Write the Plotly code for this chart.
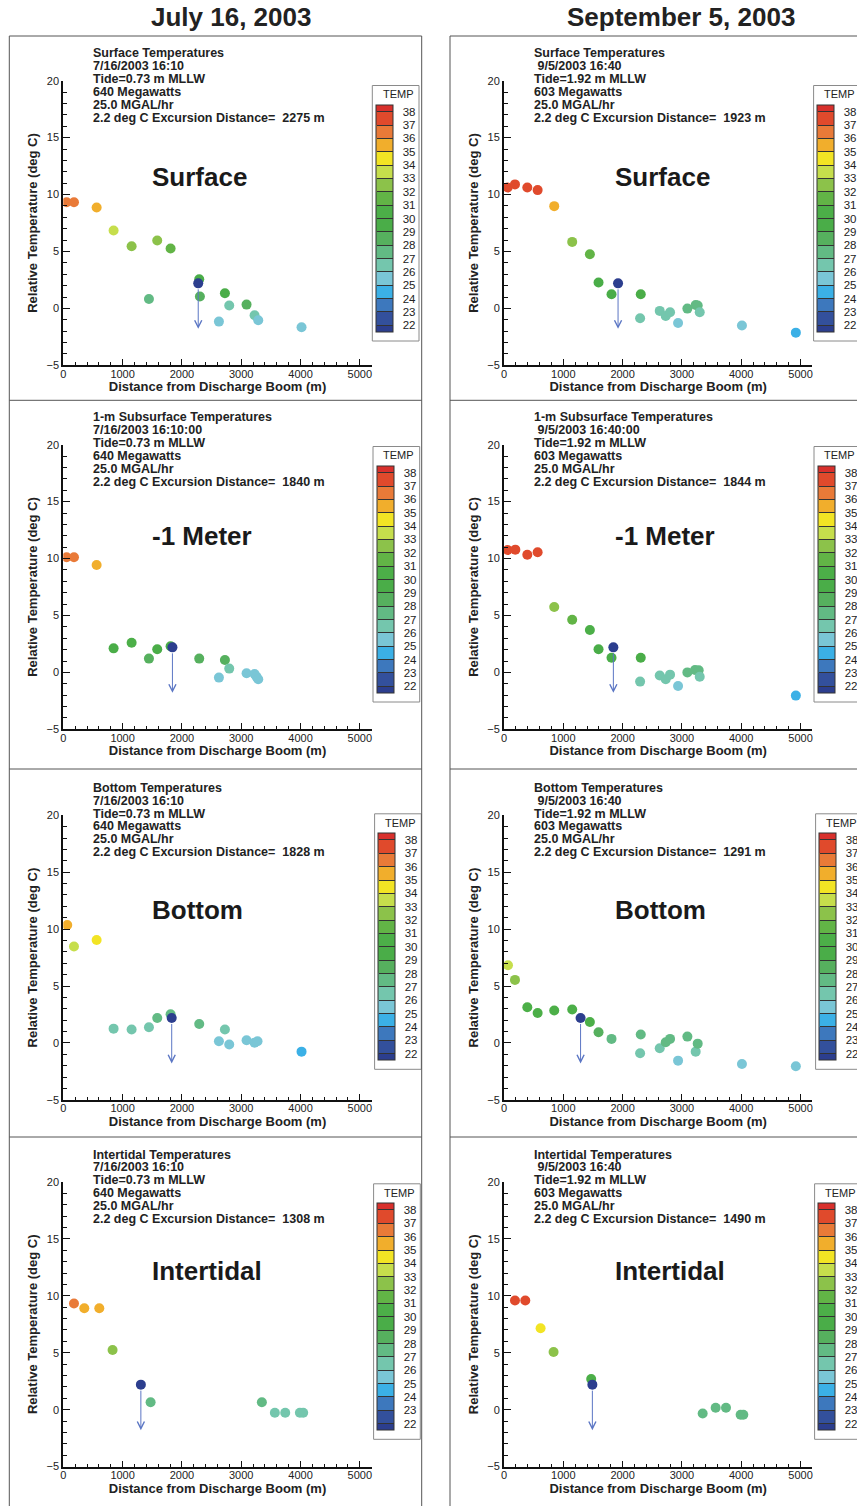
import plotly.graph_objects as go

W, H = 857, 1506
FONT = "Liberation Sans, Arial, Helvetica, sans-serif"

# ------------------------------------------------------------------ data
COLUMN_TITLES = ["July 16, 2003", "September 5, 2003"]
LAYER_LABELS = ["Surface", "-1 Meter", "Bottom", "Intertidal"]
LAYER_HEADERS = ["Surface Temperatures", "1-m Subsurface Temperatures",
                 "Bottom Temperatures", "Intertidal Temperatures"]
DATE_LINES = [["7/16/2003 16:10", "\u00a09/5/2003 16:40"],
              ["7/16/2003 16:10:00", "\u00a09/5/2003 16:40:00"],
              ["7/16/2003 16:10", "\u00a09/5/2003 16:40"],
              ["7/16/2003 16:10", "\u00a09/5/2003 16:40"]]
TIDE_LINES = ["Tide=0.73 m MLLW", "Tide=1.92 m MLLW"]
POWER_LINES = ["640 Megawatts", "603 Megawatts"]
FLOW_LINE = "25.0 MGAL/hr"

# Surface, July 16
surf_jul_dist = [56, 180, 562, 848, 1152, 1584, 1809, 1444, 2292, 2303, 2725, 2798, 3090, 2624, 3225, 3287, 4017]
surf_jul_rel = [9.33, 9.33, 8.86, 6.84, 5.46, 5.96, 5.26, 0.83, 2.56, 1.04, 1.33, 0.25, 0.33, -1.16, -0.60, -1.04, -1.66]
surf_jul_temp = [36.5, 36.5, 35.5, 33.5, 32.5, 32.5, 31.5, 27.5, 29.5, 28.5, 29.5, 26.5, 28.5, 25.5, 26.5, 25.5, 25.5]
# Surface, September 5
surf_sep_dist = [62, 185, 393, 567, 847, 1150, 1448, 1594, 1813, 2306, 2295, 2626, 2727, 2800, 2935, 3092, 3232, 3266, 3300, 4012, 4921]
surf_sep_rel = [10.62, 10.89, 10.62, 10.39, 8.98, 5.84, 4.76, 2.27, 1.24, 1.24, -0.87, -0.22, -0.66, -0.34, -1.28, -0.02, 0.30, 0.25, -0.34, -1.51, -2.13]
surf_sep_temp = [37.5, 37.5, 37.5, 37.5, 35.5, 32.5, 31.5, 29.5, 29.5, 29.5, 26.5, 26.5, 26.5, 26.5, 25.5, 27.5, 27.5, 27.5, 26.5, 25.5, 24.5]
# 1-m subsurface, July 16
sub_jul_dist = [56, 180, 562, 848, 1152, 1444, 1584, 1809, 2292, 2725, 2798, 2624, 3090, 3225, 3258, 3287]
sub_jul_rel = [10.11, 10.11, 9.43, 2.11, 2.61, 1.21, 2.03, 2.30, 1.21, 1.09, 0.33, -0.46, -0.08, -0.14, -0.38, -0.61]
sub_jul_temp = [36.5, 36.5, 35.5, 29.5, 30.5, 28.5, 29.5, 29.5, 28.5, 28.5, 26.5, 25.5, 25.5, 25.5, 25.5, 25.5]
# 1-m subsurface, September 5
sub_sep_dist = [62, 191, 393, 567, 847, 1150, 1448, 1594, 1813, 2306, 2295, 2626, 2727, 2800, 2935, 3092, 3221, 3283, 3300, 4921]
sub_sep_rel = [10.75, 10.78, 10.34, 10.55, 5.74, 4.63, 3.72, 2.03, 1.29, 1.29, -0.81, -0.28, -0.61, -0.20, -1.20, 0.00, 0.21, 0.18, -0.38, -2.04]
sub_sep_temp = [37.5, 37.5, 37.5, 37.5, 32.5, 31.5, 30.5, 29.5, 29.5, 29.5, 26.5, 26.5, 26.5, 26.5, 25.5, 27.5, 27.5, 27.5, 26.5, 24.5]
# Bottom, July 16
bot_jul_dist = [67, 180, 562, 848, 1152, 1444, 1584, 1809, 2292, 2725, 2624, 2798, 3090, 3225, 3275, 4017]
bot_jul_rel = [10.37, 8.47, 9.05, 1.26, 1.18, 1.38, 2.20, 2.52, 1.67, 1.18, 0.15, -0.14, 0.24, 0.03, 0.15, -0.76]
bot_jul_temp = [35.5, 33.5, 34.5, 26.5, 26.5, 26.5, 27.5, 27.5, 27.5, 26.5, 25.5, 25.5, 25.5, 25.5, 25.5, 24.5]
# Bottom, September 5
bot_sep_dist = [67, 185, 393, 567, 847, 1150, 1448, 1594, 1813, 2306, 2295, 2626, 2727, 2800, 2935, 3092, 3232, 3266, 4012, 4921]
bot_sep_rel = [6.83, 5.54, 3.14, 2.64, 2.85, 2.94, 1.85, 0.94, 0.36, 0.74, -0.90, -0.46, 0.07, 0.36, -1.55, 0.56, -0.76, -0.06, -1.84, -2.04]
bot_sep_temp = [33.5, 32.5, 30.5, 30.5, 30.5, 30.5, 30.5, 28.5, 27.5, 27.5, 26.5, 26.5, 27.5, 27.5, 25.5, 27.5, 26.5, 27.5, 25.5, 25.5]
# Intertidal, July 16
int_jul_dist = [180, 354, 607, 831, 1472, 3348, 3567, 3742, 3989, 4045]
int_jul_rel = [9.32, 8.91, 8.91, 5.24, 0.66, 0.66, -0.27, -0.27, -0.27, -0.27]
int_jul_temp = [36.5, 35.5, 35.5, 32.5, 27.5, 27.5, 26.5, 26.5, 26.5, 26.5]
# Intertidal, September 5
int_sep_dist = [185, 359, 617, 836, 1470, 3350, 3569, 3743, 3990, 4035]
int_sep_rel = [9.59, 9.59, 7.16, 5.06, 2.70, -0.33, 0.17, 0.17, -0.44, -0.44]
int_sep_temp = [37.5, 37.5, 34.5, 32.5, 30.5, 27.5, 27.5, 27.5, 27.5, 27.5]

# excursion (2.2 deg C) distances, row-major: surface jul/sep, 1-m, bottom, intertidal
EXCURSION_DIST = [2275, 1923, 1840, 1844, 1828, 1291, 1308, 1490]
EXCURSION_LEVEL = 2.2
ARROW_END = -1.8

# TEMP legend: integer levels 22..38, bands half a level beyond the ends
TEMP_TICKS = list(range(22, 39))
TEMP_MIN, TEMP_MAX = 21.5, 38.5
BAND_EDGES = [21.5] + list(range(22, 39)) + [38.5]
BAND_COLORS = ["#2c3e8e", "#33509c", "#3d78bd", "#3bb0e6", "#7ac6d6", "#74c6ad",
               "#62ba84", "#56b05e", "#4aad48", "#4caf48", "#62b446", "#8cc24a",
               "#c6de4c", "#f2e424", "#f1ae2c", "#e97a38", "#e04a2c", "#d8302c"]
EXCURSION_COLOR = "#2c3e8e"
ARROW_COLOR = "#5b76c4"

PANELS = [
    (surf_jul_dist, surf_jul_rel, surf_jul_temp), (surf_sep_dist, surf_sep_rel, surf_sep_temp),
    (sub_jul_dist, sub_jul_rel, sub_jul_temp), (sub_sep_dist, sub_sep_rel, sub_sep_temp),
    (bot_jul_dist, bot_jul_rel, bot_jul_temp), (bot_sep_dist, bot_sep_rel, bot_sep_temp),
    (int_jul_dist, int_jul_rel, int_jul_temp), (int_sep_dist, int_sep_rel, int_sep_temp),
]

# ------------------------------------------------------------------ geometry (px)
COL_X0 = [63.3, 504.0]
PLOT_W = 308.4
ROW_TOP = [80.7, 444.7, 815.3, 1182.0]
PLOT_H = 284.6
CB_LEFT = [[376.0, 817.3], [376.7, 817.7], [378.3, 819.3], [377.3, 818.3]]
CB_TOP = [105.0, 466.0, 833.3, 1203.3]
CB_LEN = 226.7
CB_THICK = 16.5
BIG_X = [150.0, 613.0]
BIG_Y = [176.7, 536.0, 910.0, 1271.0]
FRAME_X = [[9.3, 421.7], [450.0, 870.0]]
FRAME_Y = [36.0, 400.3, 769.0, 1137.0, 1520.0]


def px_x(v):
    return v / W


def px_y(v):
    return 1 - v / H


def colorscale():
    span = TEMP_MAX - TEMP_MIN
    sc = []
    for i, col in enumerate(BAND_COLORS):
        sc.append([(BAND_EDGES[i] - TEMP_MIN) / span, col])
        sc.append([(BAND_EDGES[i + 1] - TEMP_MIN) / span, col])
    return sc


SCALE = colorscale()
fig = go.Figure()
annotations = []
shapes = []
layout_axes = {}

for r in range(4):
    for c in range(2):
        i = r * 2 + c
        n = "" if i == 0 else str(i + 1)
        xa, ya = "x" + n, "y" + n
        dist, rel, temp = PANELS[i]
        x0 = COL_X0[c]
        top = ROW_TOP[r]
        layout_axes["xaxis" + n] = dict(
            domain=[px_x(x0), px_x(x0 + PLOT_W)], anchor=ya, range=[0, 5200],
            tickmode="linear", tick0=0, dtick=1000, ticks="inside", ticklen=6,
            tickwidth=1, tickcolor="#111", ticklabelstandoff=-3,
            minor=dict(ticks="inside", tick0=0, dtick=200, ticklen=3, tickcolor="#111", showgrid=False),
            showline=True, linewidth=2, linecolor="#111", showgrid=False, zeroline=False,
            tickfont=dict(size=11, color="#222", family=FONT),
            title=dict(text="Distance from Discharge Boom (m)", standoff=0,
                       font=dict(size=13, color="#222", family=FONT, weight="bold")),
        )
        layout_axes["yaxis" + n] = dict(
            domain=[px_y(top + PLOT_H), px_y(top)], anchor=xa, range=[-5, 20],
            tickmode="linear", tick0=0, dtick=5, ticks="inside", ticklen=7,
            tickwidth=1, tickcolor="#111",
            minor=dict(ticks="inside", tick0=0, dtick=1, ticklen=4, tickcolor="#111", showgrid=False),
            showline=True, linewidth=2, linecolor="#111", showgrid=False, zeroline=False,
            tickfont=dict(size=11, color="#222", family=FONT),
            title=dict(text="Relative Temperature (deg C)", standoff=6,
                       font=dict(size=13, color="#222", family=FONT, weight="bold")),
        )
        cbl = CB_LEFT[r][c]
        cbt = CB_TOP[r]
        fig.add_trace(go.Scatter(
            x=dist, y=rel, xaxis=xa, yaxis=ya, mode="markers", hoverinfo="skip",
            marker=dict(
                size=10, color=temp, colorscale=SCALE, cmin=TEMP_MIN, cmax=TEMP_MAX,
                line=dict(width=0), showscale=True,
                colorbar=dict(
                    x=px_x(cbl), xanchor="left", xpad=0,
                    y=px_y(cbt), yanchor="top", ypad=0,
                    len=CB_LEN, lenmode="pixels", thickness=CB_THICK, thicknessmode="pixels",
                    tickmode="array", tickvals=TEMP_TICKS,
                    ticktext=["\u00a0\u00a0" + str(t) for t in TEMP_TICKS],
                    ticks="inside", ticklen=CB_THICK, tickwidth=1, tickcolor="#333",
                    outlinewidth=1, outlinecolor="#333", borderwidth=0,
                    tickfont=dict(size=11.5, color="#222", family=FONT),
                ),
            ),
        ))
        ex = EXCURSION_DIST[i]
        fig.add_trace(go.Scatter(
            x=[ex], y=[EXCURSION_LEVEL], xaxis=xa, yaxis=ya, mode="markers",
            hoverinfo="skip", marker=dict(size=10, color=EXCURSION_COLOR, line=dict(width=0)),
        ))
        annotations.append(dict(
            x=ex, y=ARROW_END, ax=ex, ay=EXCURSION_LEVEL, xref=xa, yref=ya, axref=xa, ayref=ya,
            text="", showarrow=True, arrowhead=5, arrowsize=1.4, arrowwidth=1,
            arrowcolor=ARROW_COLOR, startstandoff=4.5,
        ))
        # header text block
        lines = [LAYER_HEADERS[r], DATE_LINES[r][c], TIDE_LINES[c], POWER_LINES[c], FLOW_LINE,
                 "2.2 deg C Excursion Distance=\u00a0 %d m" % ex]
        for k, t in enumerate(lines):
            annotations.append(dict(
                x=px_x(x0 + 27.5), y=px_y(top - 27.4 + 12.85 * k), xref="paper", yref="paper",
                xanchor="left", yanchor="middle", showarrow=False, text=t,
                font=dict(size=12.5, color="#222", family=FONT, weight="bold"),
            ))
        annotations.append(dict(
            x=px_x(BIG_X[c]), y=px_y(BIG_Y[r]), xref="paper", yref="paper",
            xanchor="left", yanchor="middle", showarrow=False, text=LAYER_LABELS[r],
            font=dict(size=26, color="#1a1a1a", family=FONT, weight="bold"),
        ))
        # legend box and TEMP title
        shapes.append(dict(type="rect", xref="paper", yref="paper",
                           x0=px_x(cbl - 3.7), x1=px_x(cbl + 43), y0=px_y(cbt + 236), y1=px_y(cbt - 19.5),
                           line=dict(color="#8a8a8a", width=1), fillcolor="rgba(0,0,0,0)", layer="below"))
        annotations.append(dict(
            x=px_x(cbl + 22), y=px_y(cbt - 10.5), xref="paper", yref="paper",
            xanchor="center", yanchor="middle", showarrow=False, text="TEMP",
            font=dict(size=11, color="#222", family=FONT),
        ))

# panel frames
for c in range(2):
    xl, xr = FRAME_X[c]
    for yy in FRAME_Y[:-1]:
        shapes.append(dict(type="line", xref="paper", yref="paper",
                           x0=px_x(xl), x1=px_x(xr), y0=px_y(yy), y1=px_y(yy),
                           line=dict(color="#555", width=1)))
    for xx in (xl, xr):
        shapes.append(dict(type="line", xref="paper", yref="paper",
                           x0=px_x(xx), x1=px_x(xx), y0=px_y(FRAME_Y[0]), y1=px_y(FRAME_Y[-1]),
                           line=dict(color="#555", width=1)))

# column titles
for c, t in enumerate(COLUMN_TITLES):
    annotations.append(dict(
        x=px_x([231, 681][c]), y=px_y(17), xref="paper", yref="paper",
        xanchor="center", yanchor="middle", showarrow=False, text=t,
        font=dict(size=26, color="#222", family=FONT, weight="bold"),
    ))

fig.update_layout(
    width=W, height=H, margin=dict(l=0, r=0, t=0, b=0, autoexpand=False),
    paper_bgcolor="white", plot_bgcolor="white", showlegend=False,
    font=dict(family=FONT, color="#222"),
    annotations=annotations, shapes=shapes, **layout_axes,
)

fig.write_html("out.html")
